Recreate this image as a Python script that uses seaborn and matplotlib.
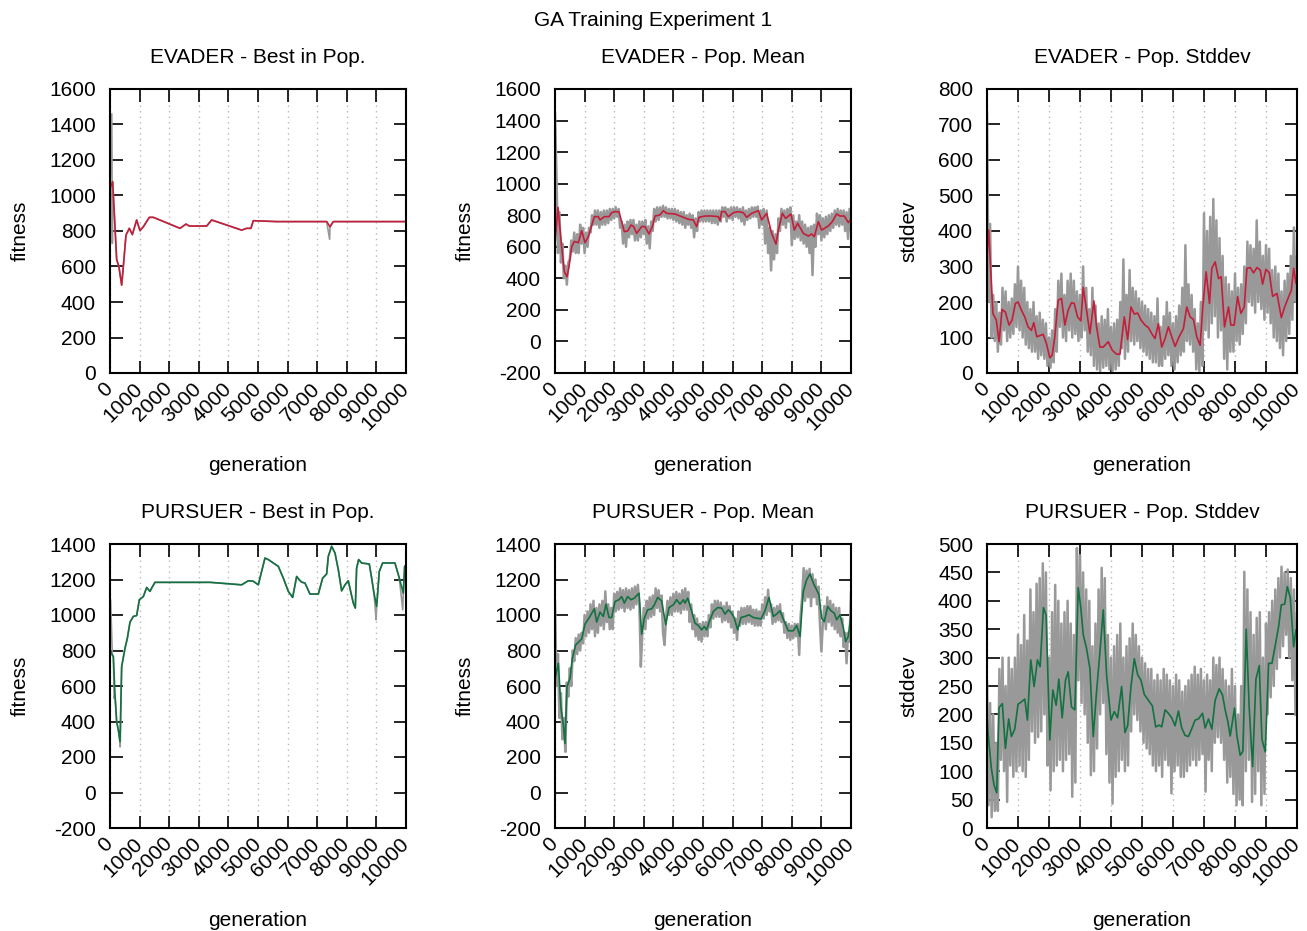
import numpy as np
import pandas as pd
import matplotlib
import matplotlib.pyplot as plt
import seaborn as sns

matplotlib.use('Agg')

# --- Data ---
# raw (per generation) curves are sampled every 50 generations
RAW_GEN = np.arange(0, 10001, 50)

# EVADER - best in population (breakpoints), plus raw spikes
ev_best_gen = [0, 90, 225, 300, 394, 450, 540, 653, 755, 900, 1013, 1126, 1329, 1464,
               2365, 2568, 2680, 3266, 3435, 4448, 4617, 4760, 4842, 5631, 7320, 7432,
               7545, 10000]
ev_best_val = [1040, 1078, 640, 600, 495, 600, 777, 815, 780, 862, 802, 824, 877, 877,
               815, 839, 828, 828, 862, 805, 815, 815, 858, 853, 853, 824,
               853, 853]
ev_best_spike_gen = [60, 80, 7420]
ev_best_spike_val = [1460, 730, 753]

# EVADER - population mean
ev_mean_raw = [
    1450, 1050, 560, 820, 500, 620, 400, 480, 360, 500, 520, 640, 570, 690, 560, 680, 560, 740, 620, 720,
    560, 690, 600, 720, 690, 800, 740, 830, 740, 830, 720, 820, 740, 830, 740, 830, 750, 840, 770, 840,
    780, 850, 790, 840, 720, 760, 620, 740, 600, 760, 660, 770, 680, 770, 640, 740, 640, 760, 660, 760,
    680, 770, 620, 730, 590, 760, 700, 840, 760, 850, 770, 850, 790, 860, 790, 850, 780, 840, 780, 840,
    770, 840, 760, 830, 750, 820, 740, 820, 720, 800, 740, 810, 720, 800, 660, 780, 700, 820, 760, 830,
    760, 830, 760, 830, 760, 830, 750, 830, 750, 830, 740, 830, 760, 850, 790, 850, 760, 840, 780, 850,
    770, 850, 790, 850, 780, 840, 760, 850, 740, 830, 770, 840, 780, 850, 790, 850, 790, 855, 720, 830,
    740, 840, 620, 830, 560, 720, 450, 700, 520, 680, 560, 780, 700, 840, 740, 830, 720, 840, 760, 850,
    610, 800, 650, 760, 660, 800, 640, 760, 620, 740, 600, 720, 560, 730, 420, 740, 600, 810, 680, 800,
    640, 780, 660, 790, 680, 800, 700, 810, 720, 830, 740, 840, 730, 830, 740, 830, 700, 820, 650, 840,
    700]
ev_mean_gen = [0, 100, 225, 315, 405, 473, 563, 653, 788, 900, 1013, 1126, 1329, 1464, 1520,
               1667, 1824, 1914, 2027, 2162, 2342, 2455, 2568, 2657, 2759, 2928, 3040, 3176,
               3288, 3378, 3547, 3660, 3772, 4054, 4279, 4504, 4673, 4786, 4865, 5067, 5293,
               5518, 5574, 5630, 5743, 5856, 6024, 6193, 6362, 6475, 6643, 6869, 6981, 7150,
               7319, 7465, 7545, 7680, 7792, 7972, 8085, 8198, 8389, 8558, 8671, 8761, 8896,
               9008, 9233, 9368, 9515, 9627, 9774, 9909, 10000]
ev_mean_avg = [620, 850, 600, 442, 410, 473, 600, 634, 626, 702, 626, 664, 791, 791, 770,
               791, 791, 816, 823, 821, 696, 700, 738, 728, 685, 728, 728, 681,
               728, 795, 802, 829, 812, 808, 791, 774, 770, 728, 787, 795, 795,
               791, 766, 823, 823, 791, 816, 823, 816, 787, 812, 829, 770, 812,
               685, 617, 706, 812, 780, 808, 706, 749, 685, 668, 681, 664, 759,
               706, 732, 759, 808, 795, 795, 753, 774]

# EVADER - population stddev
ev_std_raw = [
    737, 200, 420, 100, 220, 90, 200, 60, 170, 80, 240, 120, 230, 90, 200, 100, 210, 110, 250, 130,
    300, 120, 260, 100, 240, 80, 200, 70, 180, 60, 200, 60, 160, 40, 170, 50, 150, 40, 140, 20,
    100, 15, 120, 30, 180, 60, 260, 130, 280, 100, 220, 90, 260, 120, 280, 100, 260, 110, 230, 90,
    220, 100, 300, 120, 240, 60, 180, 50, 240, 20, 190, 10, 140, 5, 160, 15, 150, 20, 180, 10,
    130, 5, 140, 10, 150, 20, 200, 70, 320, 40, 220, 60, 290, 90, 240, 80, 230, 90, 210, 70,
    200, 60, 190, 50, 180, 40, 170, 30, 160, 30, 210, 20, 130, 20, 160, 40, 200, 50, 170, 20,
    140, 10, 160, 30, 190, 50, 240, 60, 360, 90, 250, 80, 220, 60, 180, 10, 140, 5, 200, 20,
    450, 120, 400, 100, 440, 140, 490, 160, 430, 100, 380, 120, 330, 40, 270, 10, 250, 60, 230, 60,
    280, 90, 240, 80, 250, 110, 300, 140, 370, 200, 360, 190, 350, 170, 430, 200, 370, 180, 330, 150,
    360, 170, 350, 140, 290, 100, 300, 90, 280, 70, 230, 50, 260, 90, 280, 110, 330, 150, 410, 200,
    330]
ev_std_gen = [0, 54, 190, 300, 390, 485, 590, 711, 808, 916, 1002, 1110, 1218, 1325, 1433,
              1509, 1606, 1724, 1810, 1918, 2026, 2101, 2188, 2295, 2403, 2511, 2619, 2726,
              2813, 2920, 3028, 3103, 3211, 3319, 3448, 3534, 3642, 3750, 3912, 4041, 4181,
              4289, 4429, 4537, 4644, 4752, 4860, 4968, 5097, 5205, 5313, 5420, 5528, 5636,
              5744, 5851, 5959, 6067, 6196, 6336, 6444, 6552, 6659, 6767, 6875, 6961, 7069,
              7177, 7252, 7360, 7468, 7554, 7662, 7791, 7867, 7974, 8082, 8190, 8298, 8384,
              8492, 8599, 8707, 8815, 8890, 8998, 9106, 9214, 9354, 9494, 9602, 9731, 9817,
              9892, 9968]
ev_std_avg = [330, 403, 168, 149, 88, 179, 172, 135, 149, 196, 200, 177, 158, 130, 120,
              142, 102, 106, 109, 83, 43, 50, 102, 205, 210, 135, 177, 198,
              196, 158, 147, 241, 177, 111, 203, 130, 73, 73, 88, 64, 53,
              53, 158, 94, 186, 166, 169, 149, 135, 128, 111, 97, 139, 73,
              97, 130, 102, 75, 102, 125, 186, 158, 151, 102, 78, 186, 285,
              196, 295, 313, 266, 271, 130, 186, 135, 135, 215, 168, 186, 295,
              297, 282, 297, 290, 250, 292, 282, 216, 224, 156, 186, 215, 233,
              295, 252]

# PURSUER - best in population
pu_best_gen = [0, 79, 113, 169, 225, 282, 338, 394, 507, 586, 676, 788, 901, 991, 1126,
               1239, 1351, 1408, 1520, 3378, 4448, 4673, 4842, 5011, 5123, 5236, 5349,
               5686, 5855, 6024, 6170, 6306, 6396, 6475, 6587, 6756, 7038, 7184, 7319,
               7375, 7488, 7601, 7713, 7826, 7939, 8051, 8130, 8220, 8287, 8332, 8400,
               8501, 8760, 8839, 8918, 9008, 9098, 9211, 9627, 9774, 9909, 9954, 10000]
pu_best_val = [800, 775, 765, 549, 399, 352, 286, 709, 813, 869, 960, 992, 997, 1086, 1104,
               1155, 1133, 1152, 1184, 1184, 1170, 1193, 1190, 1170, 1246, 1321, 1312,
               1274, 1208, 1133, 1099, 1217, 1198, 1185, 1180, 1118, 1118, 1208, 1231,
               1330, 1387, 1349, 1255, 1136, 1170, 1193, 1133, 1067, 1039, 1264, 1312,
               1293, 1287, 1208, 1123, 1048, 1246, 1293, 1293, 1208, 1123, 1274, 1280]
pu_best_spike_gen = [20, 140, 345, 8990, 9890]
pu_best_spike_val = [1086, 530, 257, 973, 1029]

# PURSUER - population mean
pu_mean_raw = [
    1080, 600, 780, 420, 560, 300, 420, 229, 620, 540, 700, 600, 800, 740, 870, 780, 890, 800, 900, 840,
    1000, 880, 1020, 900, 1060, 920, 1080, 880, 1040, 900, 1060, 940, 1080, 920, 1133, 960, 1060, 920, 1040, 920,
    1120, 1020, 1130, 1030, 1150, 1040, 1140, 1020, 1150, 1040, 1140, 1030, 1150, 1040, 1160, 1060, 1170, 1060, 709, 900,
    1040, 920, 1080, 980, 1100, 990, 1110, 1000, 1150, 1040, 1140, 1020, 1110, 900, 831, 980, 1080, 1000, 1100, 1000,
    1120, 1020, 1130, 1020, 1120, 1010, 1140, 1030, 1150, 1030, 1130, 960, 1060, 920, 1000, 880, 980, 860, 950, 850,
    960, 880, 960, 880, 1000, 930, 1060, 980, 1080, 990, 1080, 990, 1070, 960, 1050, 970, 1070, 960, 1050, 930,
    1020, 900, 980, 860, 1020, 940, 1040, 950, 1040, 950, 1050, 960, 1050, 950, 1030, 940, 1030, 940, 1020, 940,
    1060, 980, 1100, 1000, 1142, 1020, 1060, 950, 1040, 960, 1050, 970, 1060, 960, 1010, 900, 960, 870, 950, 860,
    940, 870, 950, 880, 950, 775, 1000, 1100, 1264, 1080, 1250, 1100, 1260, 1050, 1230, 1100, 1200, 1060, 1160, 950,
    794, 960, 1050, 920, 1100, 960, 1080, 940, 1060, 920, 1040, 900, 1040, 880, 980, 820, 900, 728, 900, 850,
    1133]
pu_mean_gen = [0, 113, 203, 282, 338, 405, 507, 586, 698, 901, 1013, 1182, 1329, 1408, 1520,
               1633, 1723, 1824, 1914, 2027, 2162, 2252, 2342, 2455, 2568, 2680, 2838, 2928,
               3018, 3130, 3266, 3356, 3468, 3603, 3739, 3851, 3997, 4110, 4223, 4335, 4391,
               4482, 4594, 4729, 4842, 4954, 5045, 5123, 5213, 5349, 5495, 5630, 5743, 5856,
               5968, 6058, 6171, 6283, 6418, 6553, 6700, 6812, 6959, 7094, 7229, 7375, 7488,
               7601, 7747, 7882, 8051, 8164, 8276, 8389, 8501, 8614, 8727, 8839, 8918, 9008,
               9098, 9211, 9323, 9436, 9515, 9627, 9740, 9819, 9909, 10000]
pu_mean_avg = [640, 728, 474, 380, 276, 596, 643, 756, 831, 865, 948, 992, 1035, 960, 1016,
               992, 1061, 986, 986, 1076, 1086, 1104, 1067, 1104, 1086, 1095, 1123, 892,
               982, 1029, 1035, 1057, 1099, 1080, 945, 1042, 1057, 1086, 1061, 1086, 1067,
               1095, 1035, 954, 941, 916, 935, 916, 963, 1020, 1042, 1039, 1005, 1029,
               1010, 982, 916, 986, 992, 1001, 986, 982, 978, 1024, 1099, 992, 1005,
               1024, 963, 911, 911, 941, 879, 1133, 1198, 1231, 1180, 1142, 1114, 982,
               963, 1048, 1024, 1010, 973, 1001, 930, 850, 879, 1001]

# PURSUER - population stddev
pu_std_raw = [
    260, 40, 220, 19, 200, 30, 150, 30, 280, 120, 300, 100, 250, 46, 300, 110, 280, 90, 300, 100,
    340, 110, 322, 100, 375, 90, 330, 120, 420, 170, 380, 150, 430, 160, 440, 170, 466, 200, 450, 110,
    300, 66, 380, 100, 428, 110, 400, 120, 360, 100, 380, 120, 400, 130, 360, 55, 340, 80, 493, 260,
    480, 220, 450, 200, 420, 150, 400, 93, 320, 100, 360, 140, 420, 200, 458, 220, 440, 130, 340, 80,
    300, 43, 320, 90, 340, 100, 360, 120, 300, 100, 320, 110, 334, 170, 360, 200, 340, 190, 320, 170,
    300, 150, 290, 140, 280, 130, 280, 110, 260, 100, 270, 110, 260, 90, 280, 120, 270, 110, 260, 61,
    250, 100, 270, 110, 260, 90, 240, 90, 250, 100, 260, 110, 270, 120, 284, 110, 270, 120, 280, 130,
    260, 64, 270, 120, 260, 100, 300, 150, 287, 160, 300, 150, 280, 120, 260, 80, 250, 90, 280, 60,
    250, 40, 200, 50, 250, 40, 451, 100, 420, 120, 380, 46, 340, 60, 370, 100, 380, 40, 300, 60,
    360, 200, 380, 230, 400, 250, 420, 280, 440, 300, 460, 320, 450, 340, 455, 300, 440, 260, 420, 199,
    380]
pu_std_gen = [0, 32, 140, 226, 313, 388, 496, 593, 700, 787, 894, 1002, 1110, 1218, 1304,
              1412, 1519, 1627, 1713, 1821, 1907, 2026, 2123, 2231, 2317, 2425, 2532, 2619,
              2726, 2834, 2942, 3028, 3103, 3211, 3319, 3427, 3534, 3642, 3750, 3858, 3998,
              4106, 4213, 4343, 4450, 4537, 4644, 4752, 4860, 4968, 5075, 5205, 5334, 5442,
              5550, 5636, 5744, 5851, 5959, 6067, 6175, 6282, 6390, 6498, 6606, 6713, 6821,
              6951, 7037, 7145, 7253, 7360, 7489, 7597, 7683, 7770, 7845, 7985, 8060, 8168,
              8254, 8362, 8459, 8567, 8675, 8782, 8869, 8976, 9084, 9192, 9300, 9408, 9494,
              9602, 9688, 9785, 9892, 9968]
pu_std_avg = [200, 169, 105, 76, 62, 212, 219, 140, 192, 161, 174, 218, 222, 227, 190,
              296, 249, 296, 284, 388, 375, 155, 243, 216, 262, 194, 260, 275,
              213, 208, 423, 387, 341, 316, 281, 161, 240, 309, 384, 269, 190,
              205, 194, 249, 168, 180, 249, 298, 270, 260, 235, 225, 215, 178,
              181, 178, 208, 202, 194, 180, 206, 176, 163, 161, 175, 190, 192,
              202, 176, 192, 174, 225, 245, 234, 208, 187, 162, 211, 163, 128,
              135, 350, 211, 108, 262, 286, 156, 134, 290, 290, 322, 355, 393,
              394, 425, 405, 319, 349]

RED = '#c41e3a'
GREEN = '#137142'
GRAY = '#999999'

sns.set_style("white")
plt.rcParams['font.family'] = ['Liberation Sans', 'DejaVu Sans']
plt.rcParams['text.color'] = 'black'
plt.rcParams['axes.labelcolor'] = 'black'
plt.rcParams['axes.unicode_minus'] = False


def draw_panel(ax, raw_x, raw_y, avg_x, avg_y, color, title, ylabel, ylim, ystep, raw_lw):
    raw = pd.DataFrame({'generation': raw_x, 'value': raw_y}).sort_values('generation')
    avg = pd.DataFrame({'generation': avg_x, 'value': avg_y})
    sns.lineplot(data=raw, x='generation', y='value', ax=ax, color=GRAY,
                 linewidth=raw_lw, estimator=None, sort=False)
    sns.lineplot(data=avg, x='generation', y='value', ax=ax, color=color,
                 linewidth=1.2, estimator=None, sort=False)
    ax.set_xlim(0, 10000)
    ax.set_ylim(*ylim)
    ax.set_xticks(np.arange(0, 10001, 1000))
    ax.set_yticks(np.arange(ylim[0], ylim[1] + 1, ystep))
    ax.xaxis.grid(True, color='#b8b8b8', linestyle=(0, (1, 3)), linewidth=1.0)
    ax.yaxis.grid(False)
    ax.tick_params(direction='in', length=9, width=1.2, top=True, right=True,
                   bottom=True, left=True, labelsize=15, colors='black')
    ax.tick_params(axis='y', pad=10)
    ax.tick_params(axis='x', pad=9)
    for lbl in ax.get_xticklabels():
        lbl.set_rotation(45)
        lbl.set_ha('right')
        lbl.set_va('center')
        lbl.set_rotation_mode('anchor')
    for sp in ax.spines.values():
        sp.set_visible(True)
        sp.set_color('black')
        sp.set_linewidth(1.5)
    ax.set_title(title, fontsize=15, pad=19)
    ax.set_xlabel('generation', fontsize=15, labelpad=16)
    ax.set_ylabel(ylabel, fontsize=15, labelpad=14)


fig = plt.figure(figsize=(13.07, 9.31), dpi=100)
W, H = 1307.0, 931.0
lefts = [110, 555, 987]
widths = [296, 296, 310]
tops = [89, 544]
h = 284
axes = [[fig.add_axes([lefts[c] / W, 1 - (tops[r] + h) / H, widths[c] / W, h / H])
         for c in range(3)] for r in range(2)]

best_raw = pd.concat([pd.DataFrame({'g': ev_best_gen, 'v': ev_best_val}),
                      pd.DataFrame({'g': ev_best_spike_gen, 'v': ev_best_spike_val})]).sort_values('g')
draw_panel(axes[0][0], best_raw['g'], best_raw['v'], ev_best_gen, ev_best_val, RED,
           'EVADER - Best in Pop.', 'fitness', (0, 1600), 200, 1.2)
draw_panel(axes[0][1], RAW_GEN, ev_mean_raw, ev_mean_gen, ev_mean_avg, RED,
           'EVADER - Pop. Mean', 'fitness', (-200, 1600), 200, 1.8)
draw_panel(axes[0][2], RAW_GEN, ev_std_raw, ev_std_gen, ev_std_avg, RED,
           'EVADER - Pop. Stddev', 'stddev', (0, 800), 100, 1.8)

pbest_raw = pd.concat([pd.DataFrame({'g': pu_best_gen, 'v': pu_best_val}),
                       pd.DataFrame({'g': pu_best_spike_gen, 'v': pu_best_spike_val})]).sort_values('g')
draw_panel(axes[1][0], pbest_raw['g'], pbest_raw['v'], pu_best_gen, pu_best_val, GREEN,
           'PURSUER - Best in Pop.', 'fitness', (-200, 1400), 200, 1.2)
draw_panel(axes[1][1], RAW_GEN, pu_mean_raw, pu_mean_gen, pu_mean_avg, GREEN,
           'PURSUER - Pop. Mean', 'fitness', (-200, 1400), 200, 1.8)
draw_panel(axes[1][2], RAW_GEN, pu_std_raw, pu_std_gen, pu_std_avg, GREEN,
           'PURSUER - Pop. Stddev', 'stddev', (0, 500), 50, 1.8)

fig.suptitle('GA Training Experiment 1', fontsize=15, y=1 - 20 / H, va='center')

plt.savefig('out.png', dpi=100)
plt.close()
